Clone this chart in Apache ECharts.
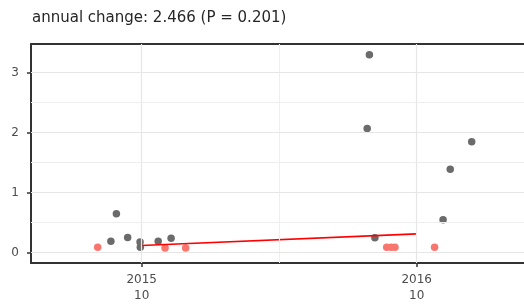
<!DOCTYPE html>
<html>
<head>
<meta charset="utf-8">
<script src="https://cdn.jsdelivr.net/npm/echarts@6/dist/echarts.min.js"></script>
<style>
  html, body { margin: 0; padding: 0; background: #fff; }
  #chart { width: 524px; height: 304px; }
</style>
</head>
<body>
<div id="chart"></div>
<script>
// data (x = decimal year)
var grayX = [2014.888, 2014.908, 2014.949, 2014.994, 2014.995, 2015.060, 2015.107, 2015.820, 2015.828, 2015.848, 2016.096, 2016.122, 2016.200];
var grayY = [0.19, 0.65, 0.255, 0.18, 0.09, 0.19, 0.24, 2.07, 3.30, 0.25, 0.55, 1.39, 1.85];
var redX = [2014.840, 2015.085, 2015.160, 2015.891, 2015.907, 2015.921, 2016.065];
var redY = [0.09, 0.08, 0.08, 0.09, 0.09, 0.09, 0.09];
var trendX = [2015.0, 2016.0];
var trendY = [0.12, 0.315];

var xTicks = [2015, 2016];
var xSubLabel = '10';
var yTicks = [0, 1, 2, 3];
var xGridMinor = [2015.5];
var yGridMinor = [0.5, 1.5, 2.5, 3.5];

function pairs(xs, ys) {
  return xs.map(function (x, i) { return [x, ys[i]]; });
}

// gridlines (major + minor) as mark lines
var major = { color: '#e6e6e6', width: 1.2, type: 'solid' };
var minor = { color: '#eeeeee', width: 1, type: 'solid' };
var gridLines = [];
xTicks.forEach(function (v) { gridLines.push({ xAxis: v, lineStyle: major }); });
xGridMinor.forEach(function (v) { gridLines.push({ xAxis: v, lineStyle: minor }); });
yTicks.forEach(function (v) { gridLines.push({ yAxis: v, lineStyle: major }); });
yGridMinor.forEach(function (v) { gridLines.push({ yAxis: v, lineStyle: minor }); });

var border = { color: '#333', width: 2 };

var chart = echarts.init(document.getElementById('chart'));
chart.setOption({
  animation: false,
  backgroundColor: '#fff',
  title: {
    text: 'annual change: 2.466 (P = 0.201)',
    left: 32,
    top: 11,
    padding: 0,
    textStyle: { fontFamily: 'DejaVu Sans', fontSize: 15, fontWeight: 'normal', color: '#262626' }
  },
  grid: { left: 31, top: 44, bottom: 40, right: 0 },
  xAxis: [{
    type: 'value',
    min: 2014.5975,
    max: 2016.3902,
    axisLine: { show: true, onZero: false, lineStyle: border },
    splitLine: { show: false },
    axisTick: { show: true, length: 4, customValues: xTicks, lineStyle: { color: '#333', width: 1.5 } },
    axisLabel: {
      customValues: xTicks,
      margin: 9,
      fontFamily: 'DejaVu Sans', fontSize: 12, color: '#4d4d4d', lineHeight: 16,
      formatter: function (v) { return Math.round(v) + '\n' + xSubLabel; }
    }
  }, {
    type: 'value',
    position: 'top',
    min: 2014.5975,
    max: 2016.3902,
    axisLine: { show: true, onZero: false, lineStyle: border },
    splitLine: { show: false },
    axisTick: { show: false },
    axisLabel: { show: false }
  }],
  yAxis: {
    type: 'value',
    min: -0.171,
    max: 3.478,
    axisLine: { show: true, onZero: false, lineStyle: border },
    splitLine: { show: false },
    axisTick: { show: true, length: 4, customValues: yTicks, lineStyle: { color: '#333', width: 1.5 } },
    axisLabel: {
      customValues: yTicks,
      margin: 12,
      fontFamily: 'DejaVu Sans', fontSize: 12, color: '#4d4d4d'
    }
  },
  series: [
    {
      type: 'line', data: [], silent: true, z: 0,
      markLine: { silent: true, symbol: 'none', label: { show: false }, data: gridLines, animation: false }
    },
    {
      type: 'scatter', data: pairs(grayX, grayY), symbolSize: 7.5, z: 2,
      itemStyle: { color: '#6b6b6b', opacity: 1 }
    },
    {
      type: 'scatter', data: pairs(redX, redY), symbolSize: 7.5, z: 3,
      itemStyle: { color: '#F8766D', opacity: 1 }
    },
    {
      type: 'line', data: pairs(trendX, trendY), showSymbol: false, z: 4,
      lineStyle: { color: '#ff0000', width: 1.6 }
    }
  ]
});
</script>
</body>
</html>
